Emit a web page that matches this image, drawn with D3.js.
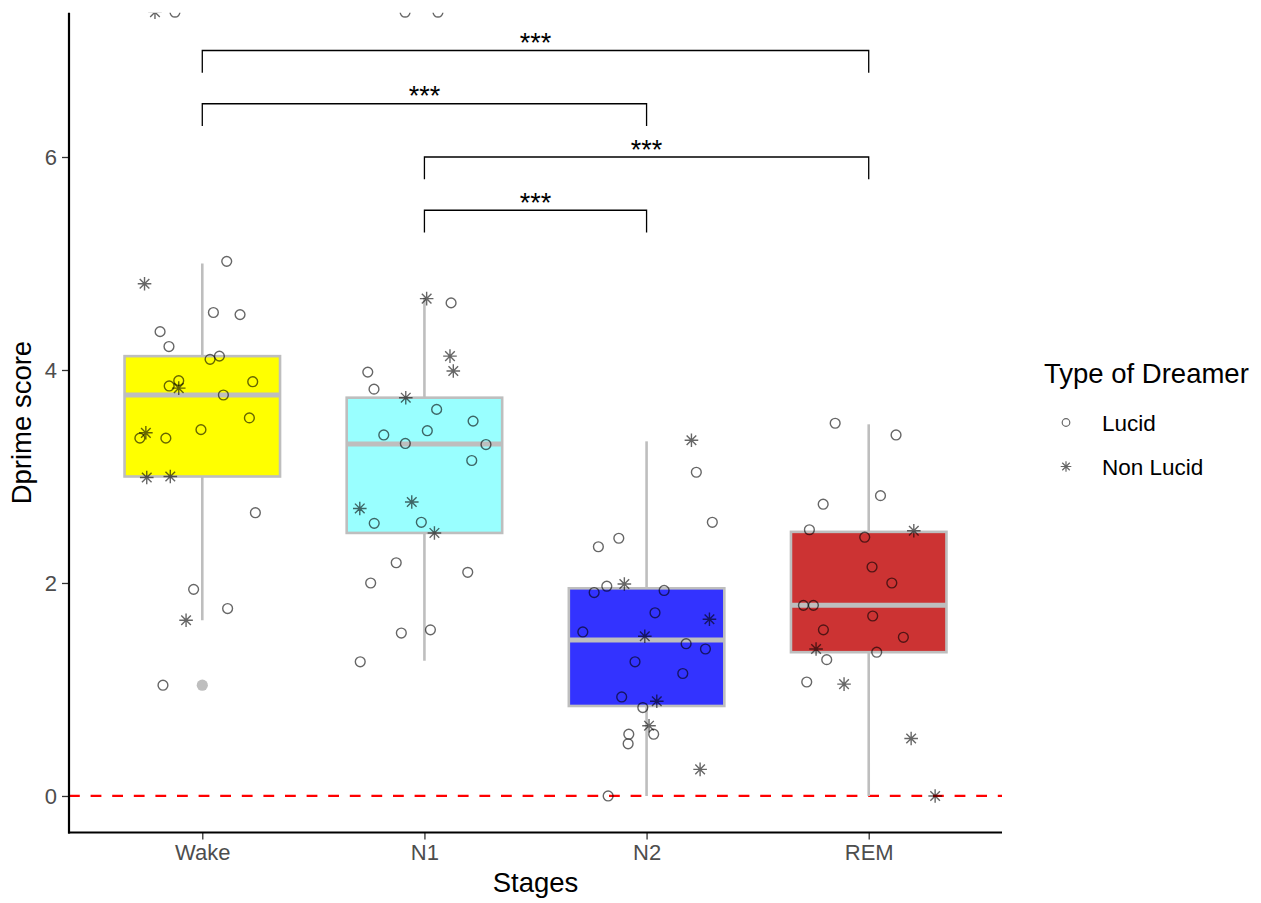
<!DOCTYPE html>
<html>
<head>
<meta charset="utf-8">
<script src="https://cdn.jsdelivr.net/npm/d3@7"></script>
<style>
  html, body { margin: 0; padding: 0; background: #fff; }
  svg { display: block; font-family: "Liberation Sans", Arial, Helvetica, sans-serif; }
</style>
</head>
<body>
<svg id="chart" width="1261" height="903"></svg>
<script>
// ---------------- data ----------------
const categories = ["Wake", "N1", "N2", "REM"];
const boxFills = ["#FFFF00", "#99FFFF", "#3333FF", "#CC3333"];
const q1 = [3.00, 2.47, 0.845, 1.35];
const median = [3.765, 3.305, 1.465, 1.79];
const q3 = [4.13, 3.74, 1.95, 2.48];
const whiskerLow = [1.65, 1.27, 0.0, 0.0];
const whiskerHigh = [5.0, 4.68, 3.33, 3.49];
const outlierStage = ["Wake"];
const outlierValue = [1.04];
const yTicks = [0, 2, 4, 6];
const dreamerTypes = ["Lucid", "Non Lucid"];

// jittered points: value, type (L = Lucid, N = Non Lucid), horizontal jitter (fraction of category step)
const wakeValues = [5.02, 4.81, 4.54, 4.52, 4.36, 4.22, 4.10, 4.13, 3.90, 3.85, 3.83, 3.89, 3.765, 3.55, 3.41, 3.36, 3.36, 3.44, 2.99, 3.00, 2.66, 1.94, 1.76, 1.65, 1.04, 7.36, 7.36];
const wakeTypes  = ["L","N","L","L","L","L","L","L","L","L","N","L","L","L","N","L","L","L","N","N","L","L","L","N","L","N","L"];
const wakeJitter = [0.11,-0.26,0.05,0.17,-0.19,-0.15,0.035,0.077,-0.106,-0.149,-0.106,0.227,0.095,0.212,-0.254,-0.281,-0.164,-0.006,-0.25,-0.144,0.239,-0.039,0.114,-0.073,-0.177,-0.213,-0.123];

const n1Values = [4.67, 4.63, 4.13, 3.99, 3.98, 3.82, 3.74, 3.63, 3.52, 3.39, 3.43, 3.31, 3.30, 3.15, 2.70, 2.76, 2.56, 2.57, 2.47, 2.19, 2.10, 2.00, 1.53, 1.56, 1.26, 7.36, 7.36];
const n1Types  = ["N","L","N","N","L","L","N","L","L","L","L","L","L","L","N","N","L","L","N","L","L","L","L","L","L","L","L"];
const n1Jitter = [0.01,0.12,0.115,0.13,-0.255,-0.227,-0.084,0.055,0.219,-0.183,0.013,-0.086,0.277,0.213,-0.291,-0.057,-0.226,-0.014,0.045,-0.127,0.195,-0.242,-0.104,0.027,-0.289,-0.087,0.061];

const n2Values = [3.34, 3.04, 2.57, 2.34, 2.42, 1.99, 1.97, 1.91, 1.93, 1.72, 1.66, 1.54, 1.50, 1.43, 1.38, 1.26, 1.15, 0.93, 0.89, 0.83, 0.66, 0.58, 0.58, 0.49, 0.25, 0.0];
const n2Types  = ["N","L","L","L","L","N","L","L","L","L","N","L","N","L","L","L","L","L","N","L","N","L","L","L","N","L"];
const n2Jitter = [0.202,0.224,0.296,-0.217,-0.125,-0.1,-0.179,-0.236,0.079,0.038,0.283,-0.287,-0.008,0.178,0.265,-0.052,0.163,-0.112,0.046,-0.017,0.011,-0.08,0.032,-0.083,0.241,-0.173];

const remValues = [3.50, 3.39, 2.82, 2.74, 2.50, 2.49, 2.43, 2.15, 2.00, 1.79, 1.79, 1.69, 1.56, 1.49, 1.38, 1.35, 1.28, 1.07, 1.05, 0.54, 0.0];
const remTypes  = ["L","L","L","L","L","N","L","L","L","L","L","L","L","L","N","L","L","L","N","N","N"];
const remJitter = [-0.151,0.123,0.053,-0.205,-0.267,0.203,-0.018,0.015,0.104,-0.294,-0.249,0.018,-0.204,0.156,-0.237,0.036,-0.189,-0.279,-0.111,0.191,0.299];

// significance brackets
const bracketFrom = ["Wake", "Wake", "N1", "N1"];
const bracketTo = ["REM", "N2", "REM", "N2"];
const bracketY = [7.0, 6.5, 6.0, 5.5];
const bracketLabel = ["***", "***", "***", "***"];
const tipLength = 0.21;

// ---------------- layout ----------------
const panel = { left: 69, right: 1002, top: 12.7, bottom: 832.5 };
const svg = d3.select("#chart");

const x = d3.scalePoint().domain(categories).range([panel.left, panel.right]).padding(0.6);
const step = x.step();
const y = d3.scaleLinear().domain([-0.343, 7.355]).range([panel.bottom, panel.top]);

svg.append("defs").append("clipPath").attr("id", "panelClip")
  .append("rect").attr("x", panel.left).attr("y", panel.top)
  .attr("width", panel.right - panel.left).attr("height", panel.bottom - panel.top);

const plot = svg.append("g").attr("clip-path", "url(#panelClip)");

// zero reference line
plot.append("line")
  .attr("x1", panel.left).attr("x2", panel.right)
  .attr("y1", y(0)).attr("y2", y(0))
  .attr("stroke", "#FF0000").attr("stroke-width", 2.2)
  .attr("stroke-dasharray", "10.8,10.8");

// boxplots
const boxW = step * 0.7;
const grey = "#BEBEBE";
categories.forEach((c, i) => {
  const cx = x(c);
  const g = plot.append("g");
  g.append("line").attr("x1", cx).attr("x2", cx).attr("y1", y(q3[i])).attr("y2", y(whiskerHigh[i]))
    .attr("stroke", grey).attr("stroke-width", 2.6);
  g.append("line").attr("x1", cx).attr("x2", cx).attr("y1", y(q1[i])).attr("y2", y(whiskerLow[i]))
    .attr("stroke", grey).attr("stroke-width", 2.6);
  g.append("rect").attr("x", cx - boxW / 2).attr("y", y(q3[i]))
    .attr("width", boxW).attr("height", y(q1[i]) - y(q3[i]))
    .attr("fill", boxFills[i]).attr("stroke", grey).attr("stroke-width", 2.6);
  g.append("line").attr("x1", cx - boxW / 2).attr("x2", cx + boxW / 2)
    .attr("y1", y(median[i])).attr("y2", y(median[i]))
    .attr("stroke", grey).attr("stroke-width", 5);
});
outlierStage.forEach((s, i) => {
  plot.append("circle").attr("cx", x(s)).attr("cy", y(outlierValue[i])).attr("r", 5.6)
    .attr("fill", grey);
});

// points
const series = [
  ["Wake", wakeValues, wakeTypes, wakeJitter],
  ["N1", n1Values, n1Types, n1Jitter],
  ["N2", n2Values, n2Types, n2Jitter],
  ["REM", remValues, remTypes, remJitter]
];
const ptColor = "rgba(0,0,0,0.6)";
function drawStar(g, cx, cy, r, sw) {
  const d = r * Math.SQRT1_2;
  const path = `M${cx - r},${cy}L${cx + r},${cy}M${cx},${cy - r}L${cx},${cy + r}` +
    `M${cx - d},${cy - d}L${cx + d},${cy + d}M${cx - d},${cy + d}L${cx + d},${cy - d}`;
  g.append("path").attr("d", path).attr("stroke", ptColor).attr("stroke-width", sw).attr("fill", "none");
}
const ptsG = plot.append("g");
series.forEach(([c, vals, types, jit]) => {
  vals.forEach((v, k) => {
    const px = x(c) + jit[k] * step;
    const py = y(v);
    if (types[k] === "L") {
      ptsG.append("circle").attr("cx", px).attr("cy", py).attr("r", 4.9)
        .attr("fill", "none").attr("stroke", ptColor).attr("stroke-width", 1.4);
    } else {
      drawStar(ptsG, px, py, 6.8, 1.4);
    }
  });
});

// brackets
const brG = svg.append("g");
bracketFrom.forEach((f, i) => {
  const x1 = x(f), x2 = x(bracketTo[i]);
  const yt = y(bracketY[i]), yb = y(bracketY[i] - tipLength);
  brG.append("path").attr("d", `M${x1},${yb}L${x1},${yt}L${x2},${yt}L${x2},${yb}`)
    .attr("fill", "none").attr("stroke", "#000").attr("stroke-width", 1.3);
  brG.append("text").attr("x", (x1 + x2) / 2).attr("y", yt + 1.5)
    .attr("text-anchor", "middle").attr("font-size", 27).attr("fill", "#000")
    .text(bracketLabel[i]);
});

// axes
const yAxis = d3.axisLeft(y).tickValues(yTicks).tickSize(7).tickPadding(5).tickFormat(d3.format("d"));
const yg = svg.append("g").attr("transform", `translate(${panel.left},0)`).call(yAxis);
yg.select(".domain").remove();
yg.selectAll(".tick line").attr("stroke", "#333").attr("stroke-width", 1.3);
yg.selectAll(".tick text").attr("fill", "#4D4D4D").attr("font-size", 22).attr("font-family", "Liberation Sans, Arial, sans-serif");

const xAxis = d3.axisBottom(x).tickSize(7).tickPadding(5);
const xg = svg.append("g").attr("transform", `translate(0,${panel.bottom})`).call(xAxis);
xg.select(".domain").remove();
xg.selectAll(".tick line").attr("stroke", "#333").attr("stroke-width", 1.3);
xg.selectAll(".tick text").attr("fill", "#4D4D4D").attr("font-size", 22).attr("font-family", "Liberation Sans, Arial, sans-serif");

svg.append("line").attr("x1", panel.left).attr("x2", panel.left)
  .attr("y1", panel.top).attr("y2", panel.bottom + 1).attr("stroke", "#000").attr("stroke-width", 2.2);
svg.append("line").attr("x1", panel.left - 1).attr("x2", panel.right)
  .attr("y1", panel.bottom).attr("y2", panel.bottom).attr("stroke", "#000").attr("stroke-width", 2.2);

// axis titles
svg.append("text").attr("x", (panel.left + panel.right) / 2).attr("y", 892)
  .attr("text-anchor", "middle").attr("font-size", 27.5).attr("fill", "#000").text("Stages");
svg.append("text").attr("transform", `translate(31,${(panel.top + panel.bottom) / 2}) rotate(-90)`)
  .attr("text-anchor", "middle").attr("font-size", 27.5).attr("fill", "#000").text("Dprime score");

// legend
const lg = svg.append("g");
lg.append("text").attr("x", 1044).attr("y", 383).attr("font-size", 27.5).attr("fill", "#000").text("Type of Dreamer");
const legY = [422.5, 466.5];
dreamerTypes.forEach((t, i) => {
  if (i === 0) {
    lg.append("circle").attr("cx", 1066).attr("cy", legY[i]).attr("r", 3.8)
      .attr("fill", "none").attr("stroke", ptColor).attr("stroke-width", 1.2);
  } else {
    drawStar(lg, 1066, legY[i], 5.3, 1.2);
  }
  lg.append("text").attr("x", 1102).attr("y", legY[i] + 8).attr("font-size", 22.5).attr("fill", "#000").text(t);
});
</script>
</body>
</html>
